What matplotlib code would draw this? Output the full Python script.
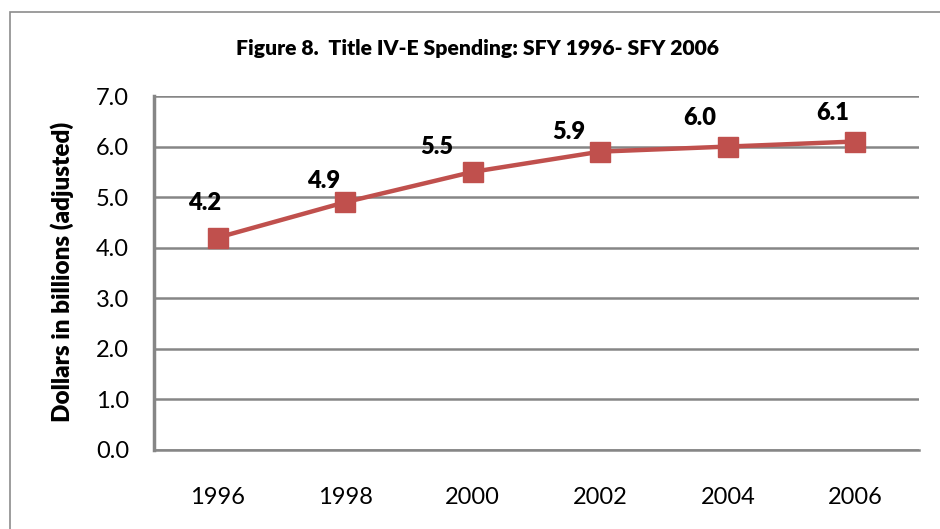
import matplotlib
matplotlib.use("Agg")
import matplotlib.pyplot as plt
from matplotlib.patches import Rectangle

plt.rcParams['font.family'] = ['Lato', 'DejaVu Sans']

years = ["1996", "1998", "2000", "2002", "2004", "2006"]
spending = [4.2, 4.9, 5.5, 5.9, 6.0, 6.1]
y_ticks = [0.0, 1.0, 2.0, 3.0, 4.0, 5.0, 6.0, 7.0]
title = "Figure 8.  Title IV-E Spending: SFY 1996- SFY 2006"
ylabel = "Dollars in billions (adjusted)"
# label offsets (px) for data labels
label_offsets = [(-13, 35), (-22, 21), (-36, 25), (-31, 20), (-28, 29), (-23, 29)]

W, H = 940, 529
fig = plt.figure(figsize=(W / 100, H / 100), dpi=100)
fig.patch.set_facecolor("white")

# outer border
fig.patches.append(Rectangle((10 / W, -0.2), 1.2, 1.2 + (H - 12) / H - 1, transform=fig.transFigure,
                             fill=False, edgecolor="#8c8c8c", linewidth=1.2))

left, right, top, bottom = 154, 919, 96, 450
ax = fig.add_axes([left / W, 1 - bottom / H, (right - left) / W, (bottom - top) / H])

x = list(range(len(years)))
ax.plot(x, spending, color="#C0504D", linewidth=3.2, marker="s", markersize=15,
        markerfacecolor="#C0504D", markeredgecolor="#C0504D", zorder=5)

for xi, v, (dx, dy) in zip(x, spending, label_offsets):
    ax.annotate(f"{v:.1f}", (xi, v), xytext=(dx * 0.72, dy * 0.72), textcoords="offset points",
                ha="center", va="center", fontsize=17, fontweight="heavy", color="black")

ax.set_xlim(-0.5, len(years) - 0.5)
ax.set_ylim(0, 7)
ax.set_yticks(y_ticks)
ax.set_yticklabels([f"{t:.1f}" for t in y_ticks])
ax.set_xticks(x)
ax.set_xticklabels(years)
ax.yaxis.grid(True, color="#868686", linewidth=1.8)
ax.set_axisbelow(True)
for s in ["top", "right"]:
    ax.spines[s].set_visible(False)
ax.spines["left"].set_color("#868686")
ax.spines["left"].set_linewidth(2.5)
ax.spines["bottom"].set_color("#868686")
ax.spines["bottom"].set_linewidth(1.8)
ax.tick_params(axis="y", length=0, labelsize=17, pad=25 * 0.72)
ax.tick_params(axis="x", length=0, labelsize=17, pad=27)

fig.text(478 / W, 1 - 48 / H, title, ha="center", va="center", fontsize=15.2, fontweight="heavy")
fig.text(62 / W, 1 - 272 / H, ylabel, ha="center", va="center", rotation=90,
         fontsize=17.5, fontweight="heavy")

fig.savefig("out.png", dpi=100)
